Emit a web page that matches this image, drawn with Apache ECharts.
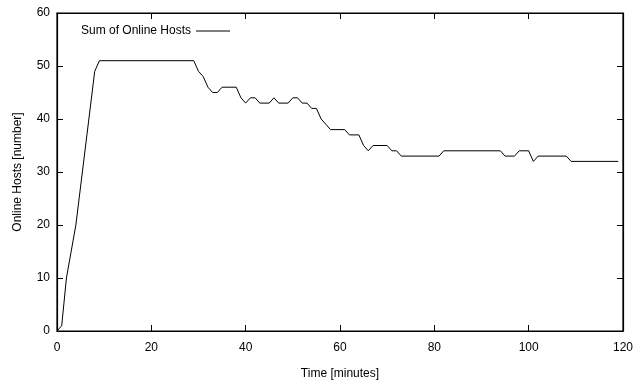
<!DOCTYPE html>
<html>
<head>
<meta charset="utf-8">
<script src="https://cdn.jsdelivr.net/npm/echarts@6/dist/echarts.min.js"></script>
<style>
  html, body { margin: 0; padding: 0; background: #fff; }
  #chart { width: 636px; height: 386px; }
</style>
</head>
<body>
<div id="chart"></div>
<script>
// Sampled hosts-online curve: time in minutes and host count at each breakpoint
const minutes = [0, 1, 2, 4, 8, 9, 29, 30, 31, 32, 33, 34, 35, 38, 39, 40, 41, 42, 43, 45, 46, 47, 49, 50, 51, 52, 53, 54, 55, 56, 57, 58, 61, 62, 64, 65, 66, 67, 70, 71, 72, 73, 81, 82, 94, 95, 97, 98, 100, 101, 102, 108, 109, 119];
const onlineHosts = [0, 1, 10, 20, 49, 51, 51, 49, 48, 46, 45, 45, 46, 46, 44, 43, 44, 44, 43, 43, 44, 43, 43, 44, 44, 43, 43, 42, 42, 40, 39, 38, 38, 37, 37, 35, 34, 35, 35, 34, 34, 33, 33, 34, 34, 33, 33, 34, 34, 32, 33, 33, 32, 32];
const seriesName = 'Sum of Online Hosts';
const xTicks = { min: 0, max: 120, interval: 20 };
const yTicks = { min: 0, max: 60, interval: 10 };

const points = minutes.map((m, i) => [m, onlineHosts[i]]);

const FONT = 'Liberation Sans, Arial, Helvetica, sans-serif';
const FS = 12;
const frame = () => ({ show: true, onZero: false, lineStyle: { color: '#000', width: 1.2 } });
const inTicks = () => ({ show: true, inside: true, length: 6, lineStyle: { color: '#000', width: 1 } });

const chart = echarts.init(document.getElementById('chart'), null, { renderer: 'canvas' });
chart.setOption({
  animation: false,
  backgroundColor: '#fff',
  grid: {
    left: 57, right: 11, top: 13, bottom: 55, containLabel: false,
    show: true, borderColor: '#000', borderWidth: 1.2, backgroundColor: 'transparent'
  },
  legend: {
    left: 76, top: 20,
    align: 'right',
    icon: 'rect',
    itemWidth: 34, itemHeight: 1,
    itemGap: 6,
    itemStyle: { color: '#000' },
    textStyle: { fontFamily: FONT, fontSize: FS, color: '#000' },
    data: [seriesName]
  },
  xAxis: [{
    type: 'value', position: 'bottom',
    min: xTicks.min, max: xTicks.max, interval: xTicks.interval,
    name: 'Time [minutes]', nameLocation: 'middle', nameGap: 37,
    nameTextStyle: { fontFamily: FONT, fontSize: FS, color: '#000' },
    axisLine: frame(), axisTick: inTicks(),
    axisLabel: { margin: 11, fontFamily: FONT, fontSize: FS, color: '#000' },
    splitLine: { show: false }
  }, {
    type: 'value', position: 'top',
    min: xTicks.min, max: xTicks.max, interval: xTicks.interval,
    axisLine: frame(), axisTick: inTicks(),
    axisLabel: { show: false }, splitLine: { show: false }
  }],
  yAxis: [{
    type: 'value', position: 'left',
    min: yTicks.min, max: yTicks.max, interval: yTicks.interval,
    name: 'Online Hosts [number]', nameLocation: 'middle', nameGap: 33,
    nameTextStyle: { fontFamily: FONT, fontSize: FS, color: '#000' },
    axisLine: frame(), axisTick: inTicks(),
    axisLabel: { margin: 7, fontFamily: FONT, fontSize: FS, color: '#000' },
    splitLine: { show: false }
  }, {
    type: 'value', position: 'right',
    min: yTicks.min, max: yTicks.max, interval: yTicks.interval,
    axisLine: frame(), axisTick: inTicks(),
    axisLabel: { show: false }, splitLine: { show: false }
  }],
  series: [{
    name: seriesName,
    type: 'line',
    xAxisIndex: 0, yAxisIndex: 0,
    data: points,
    symbol: 'none',
    lineStyle: { color: '#000', width: 1 },
    itemStyle: { color: '#000' }
  }, {
    // empty series that keeps the mirrored top/right axes drawn
    name: 'frame',
    type: 'line',
    xAxisIndex: 1, yAxisIndex: 1,
    data: [],
    symbol: 'none',
    silent: true
  }]
});
</script>
</body>
</html>
